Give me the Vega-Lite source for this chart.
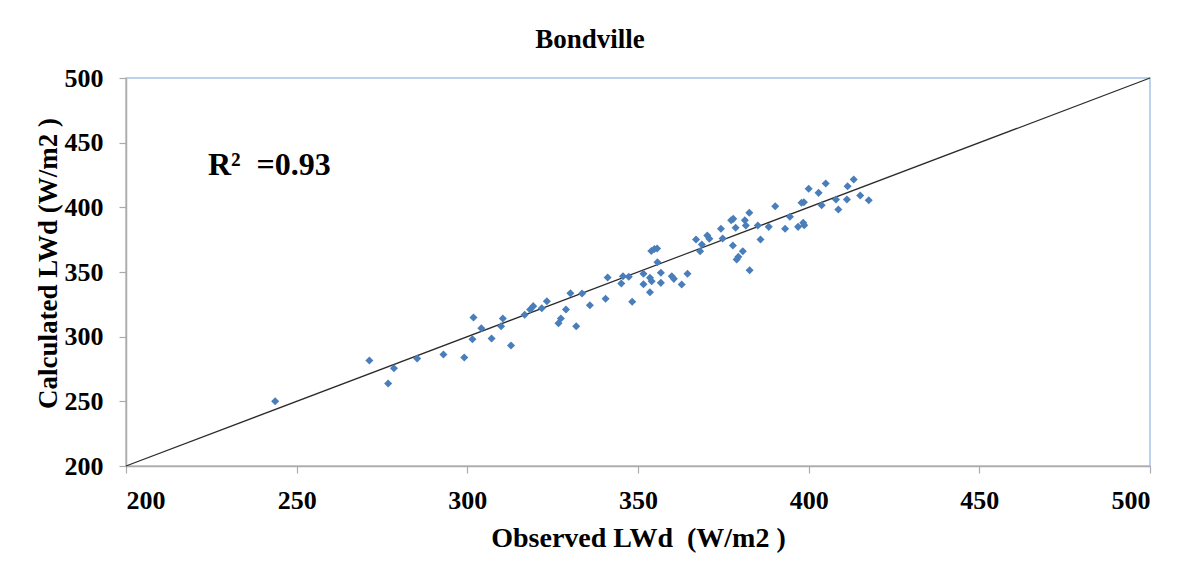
{
  "$schema": "https://vega.github.io/schema/vega-lite/v6.json",
  "autosize": {"type": "none"},
  "width": 1024,
  "height": 388,
  "padding": {"left": 126, "top": 78, "right": 33, "bottom": 103},
  "background": "white",
  "title": {
    "text": "Bondville",
    "font": "Liberation Serif",
    "fontWeight": "bold",
    "fontSize": 27,
    "color": "black",
    "anchor": "middle",
    "frame": "group",
    "baseline": "alphabetic",
    "offset": -10,
    "dx": -48
  },
  "config": {
    "view": {"stroke": "#A7C2E5", "strokeWidth": 1.5},
    "axis": {
      "grid": false,
      "domainColor": "#ABABAB",
      "domainWidth": 1.5,
      "tickColor": "#ABABAB",
      "tickWidth": 1.2,
      "tickSize": 7,
      "labelFont": "Liberation Serif",
      "labelFontWeight": "bold",
      "labelFontSize": 26,
      "labelColor": "black",
      "titleFont": "Liberation Serif",
      "titleFontWeight": "bold",
      "titleFontSize": 27,
      "titleColor": "black"
    }
  },
  "datasets": {
    "points": [
      {"obs": 243.7, "calc": 250.1},
      {"obs": 271.3, "calc": 281.6},
      {"obs": 276.8, "calc": 263.8},
      {"obs": 278.5, "calc": 275.6},
      {"obs": 285.3, "calc": 283.1},
      {"obs": 293.0, "calc": 286.2},
      {"obs": 299.1, "calc": 283.9},
      {"obs": 301.5, "calc": 298.0},
      {"obs": 301.8, "calc": 314.8},
      {"obs": 304.1, "calc": 306.5},
      {"obs": 307.1, "calc": 298.6},
      {"obs": 309.9, "calc": 308.1},
      {"obs": 310.4, "calc": 314.0},
      {"obs": 312.8, "calc": 293.2},
      {"obs": 316.8, "calc": 316.9},
      {"obs": 318.4, "calc": 321.0},
      {"obs": 319.3, "calc": 323.6},
      {"obs": 321.8, "calc": 322.0},
      {"obs": 323.3, "calc": 327.4},
      {"obs": 326.7, "calc": 310.4},
      {"obs": 327.4, "calc": 314.0},
      {"obs": 328.9, "calc": 321.0},
      {"obs": 330.2, "calc": 333.6},
      {"obs": 331.9, "calc": 308.1},
      {"obs": 333.6, "calc": 333.4},
      {"obs": 335.9, "calc": 324.3},
      {"obs": 340.5, "calc": 329.3},
      {"obs": 341.1, "calc": 345.7},
      {"obs": 345.1, "calc": 341.1},
      {"obs": 345.6, "calc": 346.7},
      {"obs": 347.3, "calc": 346.3},
      {"obs": 348.3, "calc": 327.0},
      {"obs": 351.6, "calc": 340.6},
      {"obs": 351.6, "calc": 348.6},
      {"obs": 353.5, "calc": 334.4},
      {"obs": 353.5, "calc": 345.5},
      {"obs": 354.0, "calc": 342.9},
      {"obs": 353.9, "calc": 366.2},
      {"obs": 354.8, "calc": 367.8},
      {"obs": 355.6, "calc": 368.2},
      {"obs": 355.7, "calc": 357.6},
      {"obs": 356.7, "calc": 349.4},
      {"obs": 356.7, "calc": 341.6},
      {"obs": 359.9, "calc": 346.7},
      {"obs": 360.5, "calc": 344.7},
      {"obs": 362.8, "calc": 340.3},
      {"obs": 364.5, "calc": 348.6},
      {"obs": 367.0, "calc": 375.1},
      {"obs": 368.2, "calc": 366.1},
      {"obs": 368.7, "calc": 371.3},
      {"obs": 370.3, "calc": 378.2},
      {"obs": 370.9, "calc": 375.7},
      {"obs": 374.3, "calc": 383.4},
      {"obs": 374.8, "calc": 375.9},
      {"obs": 377.3, "calc": 390.0},
      {"obs": 377.9, "calc": 391.1},
      {"obs": 377.8, "calc": 370.5},
      {"obs": 378.6, "calc": 384.2},
      {"obs": 378.9, "calc": 359.7},
      {"obs": 379.4, "calc": 361.7},
      {"obs": 380.7, "calc": 366.1},
      {"obs": 381.3, "calc": 390.0},
      {"obs": 381.6, "calc": 385.9},
      {"obs": 382.6, "calc": 395.8},
      {"obs": 382.7, "calc": 351.4},
      {"obs": 385.1, "calc": 385.9},
      {"obs": 385.9, "calc": 375.1},
      {"obs": 388.3, "calc": 384.9},
      {"obs": 390.2, "calc": 400.9},
      {"obs": 393.1, "calc": 383.4},
      {"obs": 394.5, "calc": 392.7},
      {"obs": 396.9, "calc": 384.9},
      {"obs": 397.9, "calc": 403.5},
      {"obs": 398.6, "calc": 404.0},
      {"obs": 398.4, "calc": 388.0},
      {"obs": 398.7, "calc": 386.2},
      {"obs": 400.0, "calc": 414.3},
      {"obs": 402.9, "calc": 411.2},
      {"obs": 403.8, "calc": 401.6},
      {"obs": 405.0, "calc": 418.4},
      {"obs": 408.0, "calc": 406.1},
      {"obs": 408.7, "calc": 398.3},
      {"obs": 411.2, "calc": 406.1},
      {"obs": 411.4, "calc": 416.3},
      {"obs": 413.2, "calc": 421.5},
      {"obs": 415.1, "calc": 409.1},
      {"obs": 417.6, "calc": 405.5}
    ],
    "oneToOne": [
      {"obs": 200, "calc": 200},
      {"obs": 500, "calc": 500}
    ],
    "note": [
      {"obs": 224, "calc": 433, "label": "R²\u00a0 =0.93"}
    ]
  },
  "layer": [
    {
      "data": {"name": "oneToOne"},
      "mark": {"type": "line", "color": "#2b2b2b", "strokeWidth": 1.2},
      "encoding": {
        "x": {
          "field": "obs", "type": "quantitative",
          "scale": {"domain": [200, 500], "nice": false, "zero": false},
          "axis": {
            "values": [200, 250, 300, 350, 400, 450, 500],
            "title": "Observed LWd\u00a0 (W/m2 )",
            "titleFontSize": 28,
            "labelPadding": 14,
            "titlePadding": 11
          }
        },
        "y": {
          "field": "calc", "type": "quantitative",
          "scale": {"domain": [200, 500], "nice": false, "zero": false},
          "axis": {
            "values": [200, 250, 300, 350, 400, 450, 500],
            "title": "Calculated LWd (W/m2 )",
            "labelPadding": 16,
            "titlePadding": 2,
            "titleY": 185
          }
        }
      }
    },
    {
      "data": {"name": "points"},
      "mark": {"type": "point", "shape": "diamond", "filled": true, "color": "#4A7EBB", "size": 65, "opacity": 1},
      "encoding": {
        "x": {"field": "obs", "type": "quantitative"},
        "y": {"field": "calc", "type": "quantitative"}
      }
    },
    {
      "data": {"name": "note"},
      "mark": {"type": "text", "align": "left", "baseline": "middle", "font": "Liberation Serif", "fontWeight": "bold", "fontSize": 32, "color": "black"},
      "encoding": {
        "x": {"field": "obs", "type": "quantitative"},
        "y": {"field": "calc", "type": "quantitative"},
        "text": {"field": "label"}
      }
    }
  ]
}
